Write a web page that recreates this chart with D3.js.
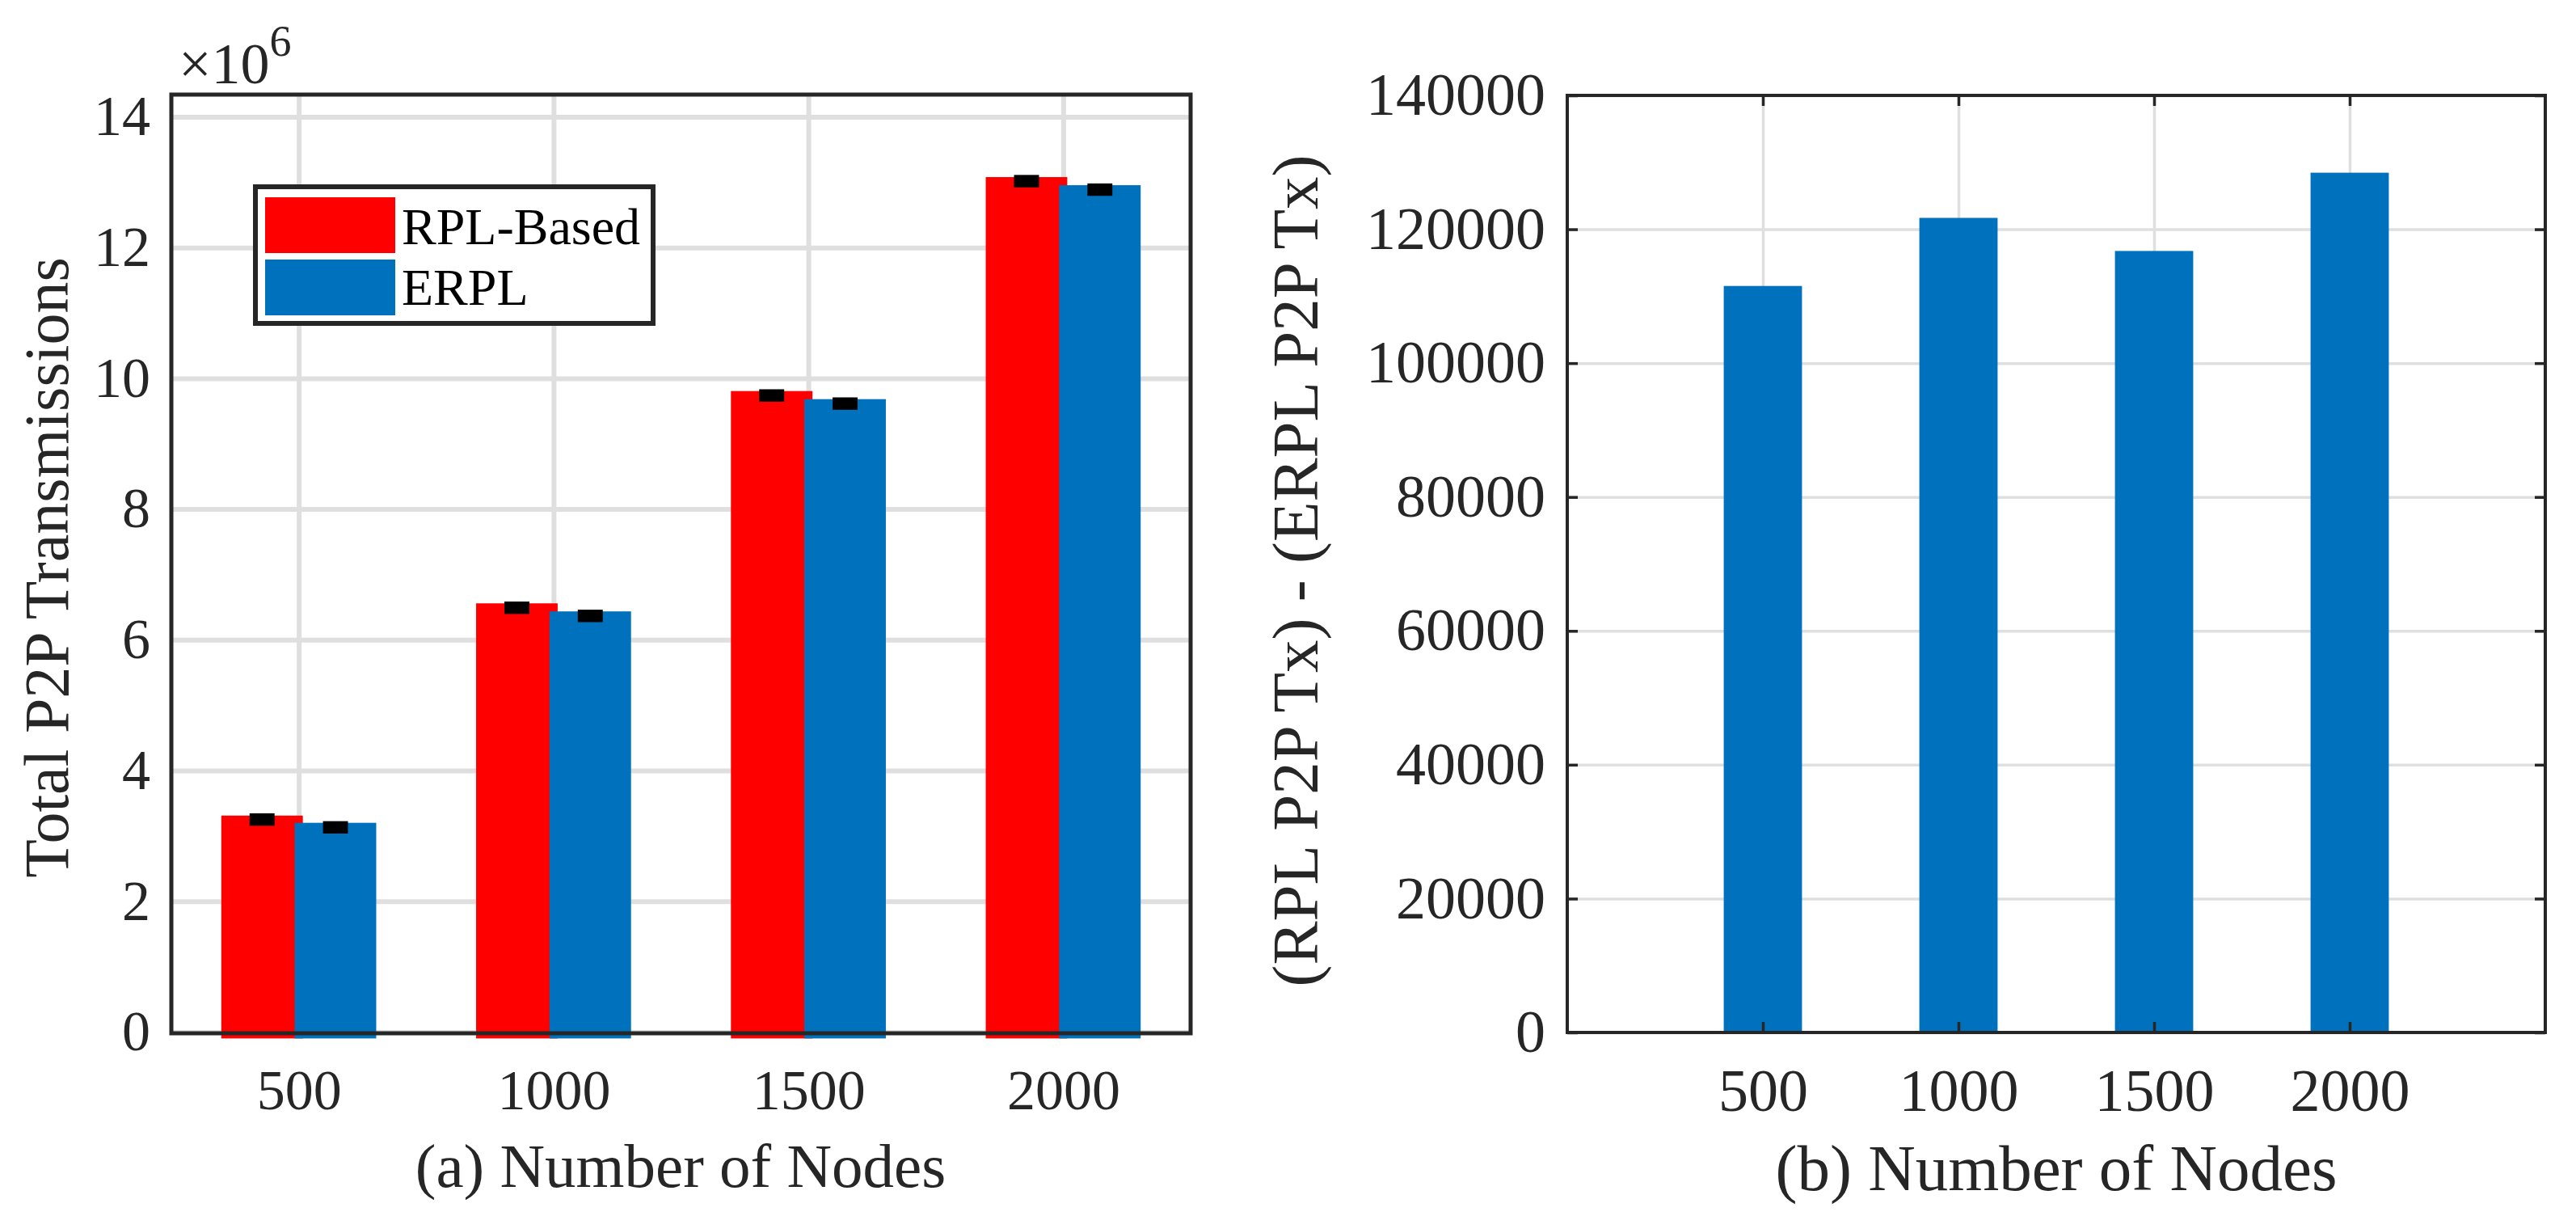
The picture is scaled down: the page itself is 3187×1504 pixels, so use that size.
<!DOCTYPE html>
<html>
<head>
<meta charset="utf-8">
<script src="https://cdn.jsdelivr.net/npm/d3@7"></script>
<style>
  html, body { margin: 0; padding: 0; background: #fff; }
  svg { display: block; }
  text { font-family: "Liberation Serif", "Times New Roman", serif; fill: #262626; }
</style>
</head>
<body>
<svg width="3187" height="1504"></svg>
<script>
// ---- data ----
var nodes = [500, 1000, 1500, 2000]
var seriesNames = ['RPL-Based', 'ERPL']
var rplBased = [3.31, 6.557, 9.805, 13.078]      // x 10^6
var erpl = [3.20, 6.434, 9.681, 12.954]          // x 10^6
var rplErrMid = [3.25, 6.49, 9.737, 13.016]
var erplErrMid = [3.13, 6.365, 9.613, 12.886]
var errHalf = 0.095
var diffTx = [111530, 121700, 116760, 128450]
var yTicksA = [0, 2, 4, 6, 8, 10, 12, 14]
var yTicksB = [0, 20000, 40000, 60000, 80000, 100000, 120000, 140000]

var red = '#ff0000', blue = '#0072bd', ink = '#262626', grid = '#dfdfdf'
var svg = d3.select('svg')
svg.append('rect').attr('width', 3187).attr('height', 1504).attr('fill', '#fff')

// ================= panel (a) =================
var xA = d3.scaleLinear().domain([250, 2250]).range([212, 1473])
  , yA = d3.scaleLinear().domain([-0.02, 14.34]).range([1278, 117])
  , a = svg.append('g')

a.append('g').attr('transform', 'translate(0,1278)')
  .call(d3.axisBottom(xA).tickValues(nodes).tickSize(-(1278 - 117)).tickFormat(''))
  .call(function (g) { g.select('.domain').remove() })
  .selectAll('line').attr('stroke', grid).attr('stroke-width', 6)
a.append('g').attr('transform', 'translate(212,0)')
  .call(d3.axisLeft(yA).tickValues(yTicksA).tickSize(-(1473 - 212)).tickFormat(''))
  .call(function (g) { g.select('.domain').remove() })
  .selectAll('line').attr('stroke', grid).attr('stroke-width', 6)

var barW = 160, barOff = 72, errW = 49, overhang = 8
var groups = [
  { vals: rplBased, err: rplErrMid, color: red, off: -barOff },
  { vals: erpl, err: erplErrMid, color: blue, off: barOff }
]
groups.forEach(function (s) {
  a.append('g').selectAll('rect').data(nodes).enter().append('rect')
    .attr('x', function (d) { return xA(d + s.off - barW / 2) })
    .attr('width', function (d) { return xA(d + s.off + barW / 2) - xA(d + s.off - barW / 2) })
    .attr('y', function (d, i) { return yA(s.vals[i]) })
    .attr('height', function (d, i) { return yA(0) - yA(s.vals[i]) + overhang })
    .attr('fill', s.color)
})
groups.forEach(function (s) {
  a.append('g').selectAll('rect').data(nodes).enter().append('rect')
    .attr('x', function (d) { return xA(d + s.off - errW / 2) })
    .attr('width', function (d) { return xA(d + s.off + errW / 2) - xA(d + s.off - errW / 2) })
    .attr('y', function (d, i) { return yA(s.err[i] + errHalf) })
    .attr('height', function (d, i) { return yA(s.err[i] - errHalf) - yA(s.err[i] + errHalf) })
    .attr('fill', '#000')
})

a.append('rect').attr('x', 212).attr('y', 117).attr('width', 1473 - 212).attr('height', 1278 - 117)
  .attr('fill', 'none').attr('stroke', ink).attr('stroke-width', 5)

a.append('g').attr('transform', 'translate(212,0)')
  .call(d3.axisLeft(yA).tickValues(yTicksA).tickSize(0).tickPadding(26))
  .call(function (g) { g.select('.domain').remove() })
  .selectAll('text').attr('font-size', 70).attr('fill', ink)
a.append('g').attr('transform', 'translate(0,1278)')
  .call(d3.axisBottom(xA).tickValues(nodes).tickSize(0).tickFormat(d3.format('d')))
  .call(function (g) { g.select('.domain').remove() })
  .selectAll('text').attr('font-size', 70).attr('fill', ink).attr('dy', null).attr('y', 94)

var expo = a.append('text').attr('x', 221).attr('y', 103).attr('font-size', 72)
expo.append('tspan').text('×10')
expo.append('tspan').attr('font-size', 54).attr('dy', -34).text('6')

a.append('text').attr('x', 842).attr('y', 1468).attr('text-anchor', 'middle')
  .attr('font-size', 77).text('(a) Number of Nodes')
a.append('text').attr('transform', 'translate(84,702) rotate(-90)').attr('text-anchor', 'middle')
  .attr('font-size', 78).text('Total P2P Transmissions')

// legend
var leg = a.append('g')
leg.append('rect').attr('x', 316).attr('y', 231).attr('width', 492).attr('height', 169)
  .attr('fill', '#fff').attr('stroke', ink).attr('stroke-width', 6)
;[red, blue].forEach(function (c, i) {
  leg.append('rect').attr('x', 328).attr('y', 244 + i * 77).attr('width', 161).attr('height', 69).attr('fill', c)
  leg.append('text').attr('x', 497).attr('y', 302 + i * 75).attr('font-size', 64)
    .style('fill', '#000').text(seriesNames[i])
})

// ================= panel (b) =================
var xB = d3.scaleLinear().domain([0, 2500]).range([1939, 3149])
  , yB = d3.scaleLinear().domain([0, 140000]).range([1277, 118])
  , b = svg.append('g')

b.append('g').attr('transform', 'translate(0,1277)')
  .call(d3.axisBottom(xB).tickValues(nodes).tickSize(-(1277 - 118)).tickFormat(''))
  .call(function (g) { g.select('.domain').remove() })
  .selectAll('line').attr('stroke', grid).attr('stroke-width', 3.5)
b.append('g').attr('transform', 'translate(1939,0)')
  .call(d3.axisLeft(yB).tickValues(yTicksB).tickSize(-(3149 - 1939)).tickFormat(''))
  .call(function (g) { g.select('.domain').remove() })
  .selectAll('line').attr('stroke', grid).attr('stroke-width', 3.5)

var barWB = 200
b.append('g').selectAll('rect').data(nodes).enter().append('rect')
  .attr('x', function (d) { return xB(d - barWB / 2) })
  .attr('width', function (d) { return xB(d + barWB / 2) - xB(d - barWB / 2) })
  .attr('y', function (d, i) { return yB(diffTx[i]) })
  .attr('height', function (d, i) { return yB(0) - yB(diffTx[i]) })
  .attr('fill', blue)

b.append('rect').attr('x', 1939).attr('y', 118).attr('width', 3149 - 1939).attr('height', 1277 - 118)
  .attr('fill', 'none').attr('stroke', ink).attr('stroke-width', 4)

function inwardTicks(g) {
  g.select('.domain').remove()
  g.selectAll('line').attr('stroke', ink).attr('stroke-width', 3.5)
}
b.append('g').attr('transform', 'translate(0,1277)')
  .call(d3.axisBottom(xB).tickValues(nodes).tickSizeInner(-13).tickSizeOuter(0).tickFormat('')).call(inwardTicks)
b.append('g').attr('transform', 'translate(0,118)')
  .call(d3.axisTop(xB).tickValues(nodes).tickSizeInner(-13).tickSizeOuter(0).tickFormat('')).call(inwardTicks)
b.append('g').attr('transform', 'translate(1939,0)')
  .call(d3.axisLeft(yB).tickValues(yTicksB).tickSizeInner(-13).tickSizeOuter(0).tickFormat('')).call(inwardTicks)
b.append('g').attr('transform', 'translate(3149,0)')
  .call(d3.axisRight(yB).tickValues(yTicksB).tickSizeInner(-13).tickSizeOuter(0).tickFormat('')).call(inwardTicks)

b.append('g').attr('transform', 'translate(1939,0)')
  .call(d3.axisLeft(yB).tickValues(yTicksB).tickSize(0).tickPadding(27).tickFormat(d3.format('d')))
  .call(function (g) { g.select('.domain').remove() })
  .selectAll('text').attr('font-size', 74).attr('fill', ink)
b.append('g').attr('transform', 'translate(0,1277)')
  .call(d3.axisBottom(xB).tickValues(nodes).tickSize(0).tickFormat(d3.format('d')))
  .call(function (g) { g.select('.domain').remove() })
  .selectAll('text').attr('font-size', 74).attr('fill', ink).attr('dy', null).attr('y', 97)

b.append('text').attr('x', 2544).attr('y', 1472).attr('text-anchor', 'middle')
  .attr('font-size', 81).text('(b) Number of Nodes')
b.append('text').attr('transform', 'translate(1630,706) rotate(-90)').attr('text-anchor', 'middle')
  .attr('font-size', 81).text('(RPL P2P Tx) - (ERPL P2P Tx)')
</script>
</body>
</html>
